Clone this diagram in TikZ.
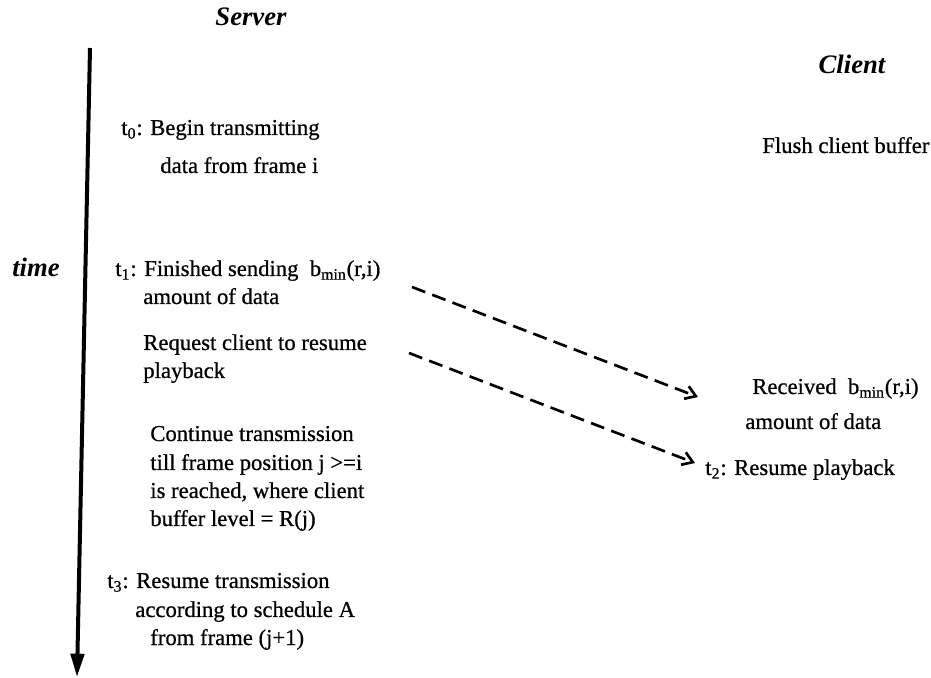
\documentclass[tikz,border=0pt]{standalone}
\usepackage{fontspec}
\setmainfont{Liberation Serif}
\newfontfamily\scanfont{Liberation Serif}[FakeBold=0.7]
\usetikzlibrary{arrows.meta}
\begin{document}
\begin{tikzpicture}[x=0.6pt,y=-0.6pt,
  lbl/.style={anchor=base west, inner sep=0pt, font=\scanfont\fontsize{13.6}{16}\selectfont},
  head/.style={anchor=base, inner sep=0pt, font=\fontsize{16}{19}\selectfont\bfseries\itshape},
  timeaxis/.style={line width=2.4pt, -{Triangle[length=14pt,width=8pt]}},
  msg/.style={line width=1.6pt, dash pattern=on 8.5pt off 4.5pt,
    -{Straight Barb[length=6pt,width=8pt,line width=1.6pt]}}]
\useasboundingbox (0,0) rectangle (931,678);

% column headings
\node[head] (server) at (251,26) {Server};
\node[head] (client) at (852,74) {Client};
\node[head, anchor=base west] (time) at (12,277) {time};

% time axis
\coordinate (axtop) at (90,48);
\coordinate (axbot) at (77,677);
\draw[timeaxis] (axtop) -- (axbot);

% server side events
\node[lbl] (t0)   at (121,135) {t\textsubscript{0}: Begin transmitting};
\node[lbl] (t0b)  at (160,173) {data from frame i};
\node[lbl] (t1)   at (115,276) {t\textsubscript{1}: Finished sending\ \ b\textsubscript{min}(r,i)};
\node[lbl] (t1b)  at (143,304) {amount of data};
\node[lbl] (req)  at (143,350) {Request client to resume};
\node[lbl] (reqb) at (143,378) {playback};
\node[lbl] (ct1)  at (150,441) {Continue transmission};
\node[lbl] (ct2)  at (150,470) {till frame position j >=i};
\node[lbl] (ct3)  at (150,498) {is reached, where client};
\node[lbl] (ct4)  at (150,526) {buffer level = R(j)};
\node[lbl] (t3)   at (107,588) {t\textsubscript{3}: Resume transmission};
\node[lbl] (t3b)  at (135,617) {according to schedule A};
\node[lbl] (t3c)  at (150,645) {from frame (j+1)};

% client side events
\node[lbl] (flush) at (762,153) {Flush client buffer};
\node[lbl] (recv)  at (752,394) {Received\ \ b\textsubscript{min}(r,i)};
\node[lbl] (recvb) at (745,429) {amount of data};
\node[lbl] (t2)    at (705,475) {t\textsubscript{2}: Resume playback};

% messages from server to client
\coordinate (m1s) at (412,287);
\coordinate (m1e) at (698,397);
\coordinate (m2s) at (409,353);
\coordinate (m2e) at (695,463);
\draw[msg] (m1s) -- (m1e);
\draw[msg] (m2s) -- (m2e);
\end{tikzpicture}
\end{document}
